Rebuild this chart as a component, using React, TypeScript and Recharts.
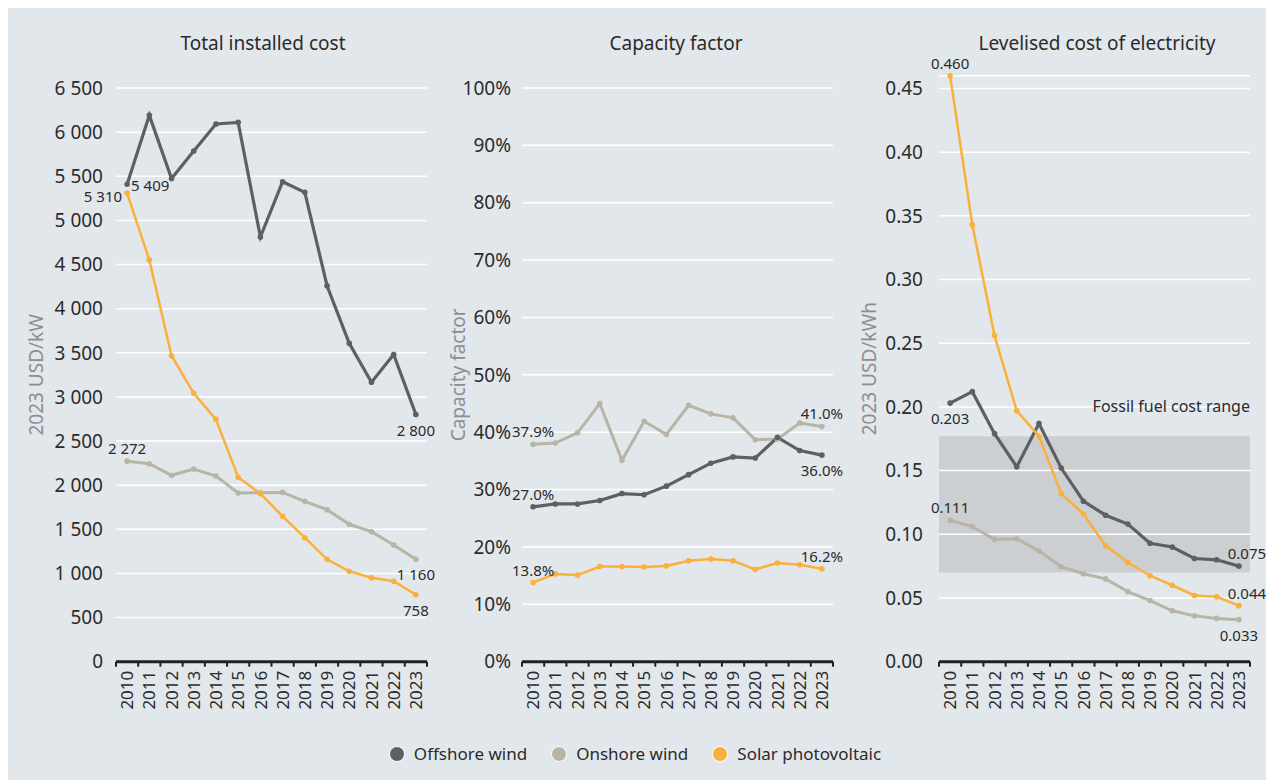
import { LineChart, Line, XAxis, YAxis, CartesianGrid, LabelList, ReferenceArea } from 'recharts'

const years = ['2010', '2011', '2012', '2013', '2014', '2015', '2016', '2017', '2018', '2019', '2020', '2021', '2022', '2023']

// Total installed cost (2023 USD/kW)
const costOffshore = [5409, 6190, 5475, 5786, 6092, 6111, 4812, 5438, 5318, 4260, 3607, 3166, 3480, 2800]
const costOnshore = [2272, 2243, 2112, 2183, 2104, 1911, 1915, 1918, 1817, 1722, 1557, 1473, 1322, 1160]
const costSolar = [5310, 4551, 3467, 3041, 2746, 2089, 1904, 1647, 1405, 1160, 1024, 952, 911, 758]

// Capacity factor (%)
const cfOffshore = [27.0, 27.5, 27.5, 28.1, 29.3, 29.1, 30.6, 32.6, 34.6, 35.7, 35.5, 39.1, 36.8, 36.0]
const cfOnshore = [37.9, 38.1, 39.9, 45.0, 35.1, 41.9, 39.6, 44.7, 43.2, 42.5, 38.7, 38.8, 41.6, 41.0]
const cfSolar = [13.8, 15.3, 15.1, 16.6, 16.6, 16.5, 16.7, 17.6, 17.9, 17.6, 16.1, 17.2, 16.9, 16.2]

// Levelised cost of electricity (2023 USD/kWh)
const lcoeOffshore = [0.203, 0.212, 0.179, 0.153, 0.187, 0.152, 0.126, 0.115, 0.108, 0.093, 0.09, 0.081, 0.08, 0.075]
const lcoeOnshore = [0.111, 0.106, 0.096, 0.0965, 0.087, 0.0745, 0.069, 0.065, 0.055, 0.048, 0.04, 0.036, 0.034, 0.033]
const lcoeSolar = [0.46, 0.343, 0.256, 0.197, 0.177, 0.132, 0.116, 0.091, 0.078, 0.0675, 0.06, 0.052, 0.051, 0.044]

const fossilRange = [0.07, 0.177]

const costTicks = [0, 500, 1000, 1500, 2000, 2500, 3000, 3500, 4000, 4500, 5000, 5500, 6000, 6500]
const cfTicks = [0, 10, 20, 30, 40, 50, 60, 70, 80, 90, 100]
const lcoeTicks = [0, 0.05, 0.1, 0.15, 0.2, 0.25, 0.3, 0.35, 0.4, 0.45]

const OFFSHORE = '#5d5f63'
const ONSHORE = '#b8b5a6'
const SOLAR = '#fbb03b'
const TEXT = '#2b2b2b'
const FONT = '"Noto Sans", sans-serif'

const costData = years.map((year, i) => ({ year, offshore: costOffshore[i], onshore: costOnshore[i], solar: costSolar[i] }))
const cfData = years.map((year, i) => ({ year, offshore: cfOffshore[i], onshore: cfOnshore[i], solar: cfSolar[i] }))
const lcoeData = years.map((year, i) => ({ year, offshore: lcoeOffshore[i], onshore: lcoeOnshore[i], solar: lcoeSolar[i] }))

const PLOT_W = 311
const HALF = PLOT_W / 28

const thousands = (v: number) => {
  if (v < 1000) return String(v)
  return `${Math.floor(v / 1000)} ${String(v % 1000).padStart(3, '0')}`
}

function YearTick(props: any) {
  const { x, y, payload, index } = props
  return (
    <g>
      <line x1={x - HALF} x2={x - HALF} y1={y} y2={y + 5} stroke='#231f20' strokeWidth={2} />
      {index === years.length - 1 && (
        <line x1={x + HALF} x2={x + HALF} y1={y} y2={y + 5} stroke='#231f20' strokeWidth={2} />
      )}
      <text
        x={x}
        y={y + 9}
        transform={`rotate(-90 ${x} ${y + 9})`}
        textAnchor='end'
        dy='0.36em'
        fontSize={17}
        fill={TEXT}
        fontFamily={FONT}
      >
        {payload.value}
      </text>
    </g>
  )
}

// first / last point labels: [position, dx] for each end
type End = [string, number]

function endLabel(fmt: (v: number) => string, first: End, last: End) {
  return (props: any) => {
    const { x, y, index, value } = props
    let spec: End | null = null
    if (index === 0) spec = first
    if (index === years.length - 1) spec = last
    if (!spec) return null
    const [pos, dx] = spec
    let tx = x + dx
    let ty = y
    let anchor: 'middle' | 'start' | 'end' = 'middle'
    if (pos === 'top') ty = y - 13
    if (pos === 'bottom') ty = y + 15
    if (pos === 'left') {
      tx = x - 5 + dx
      anchor = 'end'
      ty = y + 3
    }
    if (pos === 'right') {
      tx = x + 4 + dx
      anchor = 'start'
      ty = y + 1
    }
    return (
      <text x={tx} y={ty} textAnchor={anchor} dominantBaseline='central' fontSize={15} fill={TEXT} fontFamily={FONT}>
        {fmt(value)}
      </text>
    )
  }
}

function series(key: string, color: string, width: number, fmt: (v: number) => string, first: End, last: End) {
  return (
    <Line
      key={key}
      dataKey={key}
      type='linear'
      stroke={color}
      strokeWidth={width}
      dot={{ r: 2.8, fill: color, stroke: 'none' }}
      activeDot={false}
      isAnimationActive={false}
    >
      <LabelList dataKey={key} content={endLabel(fmt, first, last)} />
    </Line>
  )
}

const tickStyle = { fill: TEXT, fontSize: 19, fontFamily: FONT }
const labelStyle = { textAnchor: 'middle' as const, fill: '#8b8e92', fontSize: 19, fontFamily: FONT }

function xAxis() {
  return (
    <XAxis
      dataKey='year'
      padding={{ left: HALF, right: HALF }}
      tickSize={0}
      tickMargin={0}
      tickLine={false}
      interval={0}
      axisLine={{ stroke: '#231f20', strokeWidth: 3 }}
      tick={<YearTick />}
      height={60}
    />
  )
}

function Title({ text, cx }: { text: string; cx: number }) {
  return (
    <div
      style={{
        position: 'absolute',
        left: cx - 150,
        width: 300,
        top: 22,
        textAlign: 'center',
        fontSize: 19,
        color: TEXT,
        fontFamily: FONT
      }}
    >
      {text}
    </div>
  )
}

function LegendItem({ color, label }: { color: string; label: string }) {
  return (
    <div style={{ display: 'flex', alignItems: 'center', marginRight: 24 }}>
      <div
        style={{
          width: 16,
          height: 16,
          borderRadius: 8,
          background: color,
          border: '1.5px solid #fff',
          boxSizing: 'border-box',
          marginRight: 9
        }}
      />
      <span>{label}</span>
    </div>
  )
}

export default function App() {
  const fmtPct = (v: number) => `${v.toFixed(1)}%`
  const fmtUsd = (v: number) => v.toFixed(3)
  return (
    <div
      style={{
        position: 'relative',
        marginLeft: -2,
        width: 1268,
        height: 772,
        background: '#e2e7eb',
        fontFamily: FONT,
        overflow: 'hidden'
      }}
    >
      <Title text='Total installed cost' cx={257} />
      <Title text='Capacity factor' cx={670} />
      <Title text='Levelised cost of electricity' cx={1091} />

      {/* Total installed cost */}
      <div style={{ position: 'absolute', left: 0, top: 0 }}>
        <LineChart width={430} height={725} data={costData} margin={{ top: 80, right: 9, bottom: 11.3, left: 0 }}>
          <CartesianGrid horizontal vertical={false} stroke='#ffffff' strokeWidth={1.5} />
          {xAxis()}
          <YAxis
            width={110}
            domain={[0, 6500]}
            ticks={costTicks}
            axisLine={false}
            tickLine={false}
            tickMargin={7}
            tick={tickStyle}
            tickFormatter={thousands}
            label={{ value: '2023 USD/kW', angle: -90, position: 'insideLeft', offset: 30, style: labelStyle }}
          />
          {series('onshore', ONSHORE, 3, thousands, ['top', 0], ['bottom', 0])}
          {series('offshore', OFFSHORE, 3.2, thousands, ['right', 0], ['bottom', 0])}
          {series('solar', SOLAR, 2.5, thousands, ['left', 0], ['bottom', 0])}
        </LineChart>
      </div>

      {/* Capacity factor */}
      <div style={{ position: 'absolute', left: 430, top: 0 }}>
        <LineChart width={410} height={725} data={cfData} margin={{ top: 80, right: 13, bottom: 11.3, left: 0 }}>
          <CartesianGrid horizontal vertical={false} stroke='#ffffff' strokeWidth={1.5} />
          {xAxis()}
          <YAxis
            width={86}
            domain={[0, 100]}
            ticks={cfTicks}
            axisLine={false}
            tickLine={false}
            tickMargin={5}
            tick={tickStyle}
            tickFormatter={(v: number) => `${v}%`}
            label={{ value: 'Capacity factor', angle: -90, position: 'insideLeft', offset: 22, style: labelStyle }}
          />
          {series('onshore', ONSHORE, 3, fmtPct, ['top', 0], ['top', 0])}
          {series('offshore', OFFSHORE, 3.2, fmtPct, ['top', 0], ['bottom', 0])}
          {series('solar', SOLAR, 2.5, fmtPct, ['top', 0], ['top', 0])}
        </LineChart>
      </div>

      {/* Levelised cost of electricity */}
      <div style={{ position: 'absolute', left: 840, top: 0 }}>
        <LineChart width={428} height={725} data={lcoeData} margin={{ top: 67.7, right: 24, bottom: 11.3, left: 0 }}>
          <XAxis xAxisId='full' type='number' dataKey='none' domain={[0, 1]} allowDataOverflow hide />
          <ReferenceArea
            xAxisId='full'
            x1={0}
            x2={1}
            y1={fossilRange[0]}
            y2={fossilRange[1]}
            fill='#cbcfd2'
            fillOpacity={1}
            stroke='none'
            zIndex={-200}
            label={{
              value: 'Fossil fuel cost range',
              position: 'insideTopRight',
              offset: 0,
              dy: -36,
              fill: TEXT,
              fontSize: 16,
              fontFamily: FONT
            }}
          />
          <CartesianGrid horizontal vertical={false} stroke='#ffffff' strokeWidth={1.5} />
          {xAxis()}
          <YAxis
            width={93}
            domain={[0, 0.46]}
            ticks={lcoeTicks}
            axisLine={false}
            tickLine={false}
            tickMargin={10}
            tick={tickStyle}
            tickFormatter={(v: number) => v.toFixed(2)}
            label={{ value: '2023 USD/kWh', angle: -90, position: 'insideLeft', offset: 23, style: labelStyle }}
          />
          {series('onshore', ONSHORE, 3, fmtUsd, ['top', 0], ['bottom', 0])}
          {series('offshore', OFFSHORE, 3.2, fmtUsd, ['bottom', 0], ['top', 8])}
          {series('solar', SOLAR, 2.5, fmtUsd, ['top', 0], ['top', 8])}
        </LineChart>
      </div>

      <div
        style={{
          position: 'absolute',
          top: 734,
          left: 0,
          width: 1268,
          display: 'flex',
          justifyContent: 'center',
          fontSize: 17,
          color: TEXT,
          paddingLeft: 14,
          boxSizing: 'border-box'
        }}
      >
        <LegendItem color={OFFSHORE} label='Offshore wind' />
        <LegendItem color={ONSHORE} label='Onshore wind' />
        <LegendItem color={SOLAR} label='Solar photovoltaic' />
      </div>
    </div>
  )
}
